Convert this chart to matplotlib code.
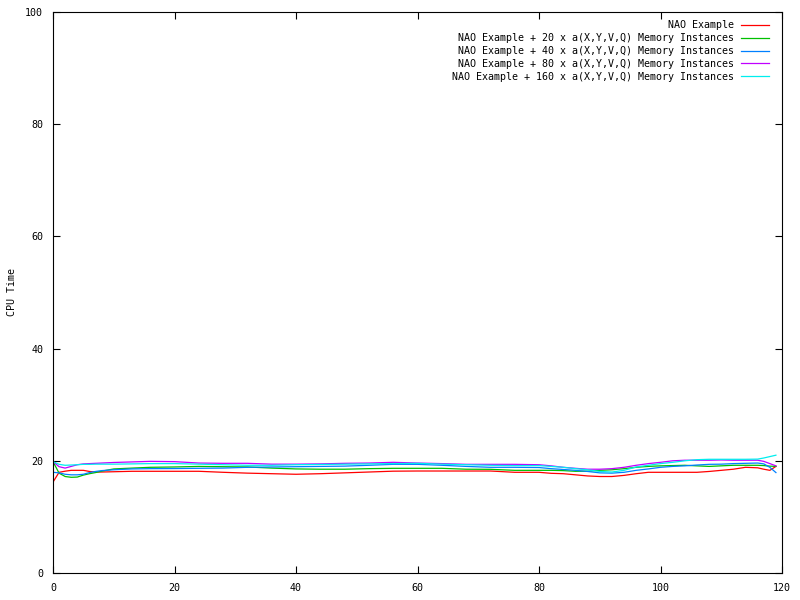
#!/usr/bin/env python
# CPU time of the NAO example with extra a(X,Y,V,Q) memory instances
import matplotlib
matplotlib.use("Agg")
import matplotlib.pyplot as plt

x = [0, 1, 2, 3, 4, 5, 6, 7, 8, 10, 13, 16, 20, 24, 28, 32, 36, 40, 44, 48,
     52, 56, 60, 64, 68, 72, 76, 80, 82, 84, 86, 88, 90, 92, 94, 96, 98, 100,
     102, 104, 106, 108, 110, 112, 114, 116, 117, 118, 119]

nao = [16.2, 17.95, 18.15, 18.3, 18.3, 18.3, 18.1, 18.0, 18.0, 18.05, 18.13,
       18.13, 18.13, 18.13, 17.95, 17.8, 17.7, 17.6, 17.7, 17.85, 18.0, 18.15,
       18.18, 18.18, 18.18, 18.18, 17.95, 17.95, 17.77, 17.7, 17.5, 17.3, 17.2,
       17.2, 17.4, 17.7, 17.95, 17.95, 17.95, 17.95, 17.95, 18.1, 18.3, 18.5,
       18.84, 18.75, 18.5, 18.3, 19.0]
mem20 = [19.85, 17.8, 17.2, 17.06, 17.1, 17.45, 17.7, 17.9, 18.15, 18.55, 18.7,
         18.84, 18.9, 19.0, 18.95, 18.9, 18.7, 18.55, 18.5, 18.5, 18.6, 18.66,
         18.66, 18.66, 18.5, 18.48, 18.3, 18.3, 18.3, 18.25, 18.13, 18.15, 18.3,
         18.4, 18.6, 18.84, 19.0, 19.1, 19.15, 19.2, 19.1, 19.0, 19.1, 19.2,
         19.2, 19.2, 19.15, 19.05, 19.0]
mem40 = [17.95, 17.85, 17.6, 17.5, 17.5, 17.6, 17.9, 18.1, 18.25, 18.4, 18.55,
         18.6, 18.62, 18.66, 18.7, 18.84, 18.9, 18.95, 19.0, 19.05, 19.2, 19.37,
         19.37, 19.2, 19.0, 18.84, 18.84, 18.8, 18.6, 18.45, 18.3, 18.1, 17.85,
         17.8, 17.95, 18.3, 18.55, 18.84, 19.0, 19.1, 19.25, 19.37, 19.4, 19.5,
         19.55, 19.6, 19.45, 18.84, 17.9]
mem80 = [19.85, 18.95, 18.7, 19.0, 19.3, 19.45, 19.5, 19.55, 19.6, 19.7, 19.8,
         19.9, 19.85, 19.6, 19.55, 19.55, 19.4, 19.4, 19.45, 19.55, 19.6, 19.73,
         19.6, 19.5, 19.37, 19.37, 19.37, 19.3, 19.1, 18.84, 18.66, 18.5, 18.5,
         18.6, 18.84, 19.2, 19.5, 19.73, 20.0, 20.1, 20.1, 20.1, 20.15, 20.1,
         20.1, 20.1, 19.9, 19.5, 19.1]
mem160 = [19.85, 19.37, 19.2, 19.25, 19.3, 19.37, 19.37, 19.4, 19.4, 19.4,
          19.45, 19.5, 19.5, 19.4, 19.3, 19.2, 19.2, 19.3, 19.35, 19.4, 19.45,
          19.5, 19.55, 19.4, 19.3, 19.2, 19.15, 19.15, 19.0, 18.84, 18.6, 18.4,
          18.1, 18.0, 18.3, 18.9, 19.2, 19.5, 19.73, 20.0, 20.2, 20.27, 20.27,
          20.27, 20.27, 20.3, 20.5, 20.75, 21.0]

labels = ["NAO Example",
          "NAO Example + 20 x a(X,Y,V,Q) Memory Instances",
          "NAO Example + 40 x a(X,Y,V,Q) Memory Instances",
          "NAO Example + 80 x a(X,Y,V,Q) Memory Instances",
          "NAO Example + 160 x a(X,Y,V,Q) Memory Instances"]
colors = ["#ff0000", "#00c000", "#0080ff", "#c000ff", "#00eeee"]
xticks = [0, 20, 40, 60, 80, 100, 120]
yticks = [0, 20, 40, 60, 80, 100]

fs = 7.2
plt.rcParams['font.family'] = ['DejaVu Sans Mono']
plt.rcParams['font.size'] = fs

fig = plt.figure(figsize=(8, 6), dpi=100)
ax = fig.add_axes([53/800, 27/600, 729/800, 561/600])
for ys, lab, c in zip([nao, mem20, mem40, mem80, mem160], labels, colors):
    ax.plot(x, ys, color=c, lw=0.9, label=lab)

ax.set_xlim(0, 120)
ax.set_ylim(0, 100)
ax.set_xticks(xticks)
ax.set_yticks(yticks)
ax.tick_params(direction='in', length=5, width=0.8, top=True, right=True,
               labelsize=fs, pad=7)
for s in ax.spines.values():
    s.set_linewidth(0.8)
ax.set_ylabel("CPU Time", fontsize=fs)
ax.yaxis.set_label_coords(-0.05, 0.5)

ax.legend(loc='upper right', bbox_to_anchor=(1 - 5/729, 1), frameon=False,
          markerfirst=False, fontsize=fs, handlelength=2.8, handletextpad=0.7,
          labelspacing=0.28, borderaxespad=0.45)

plt.savefig("out.png", dpi=100)
